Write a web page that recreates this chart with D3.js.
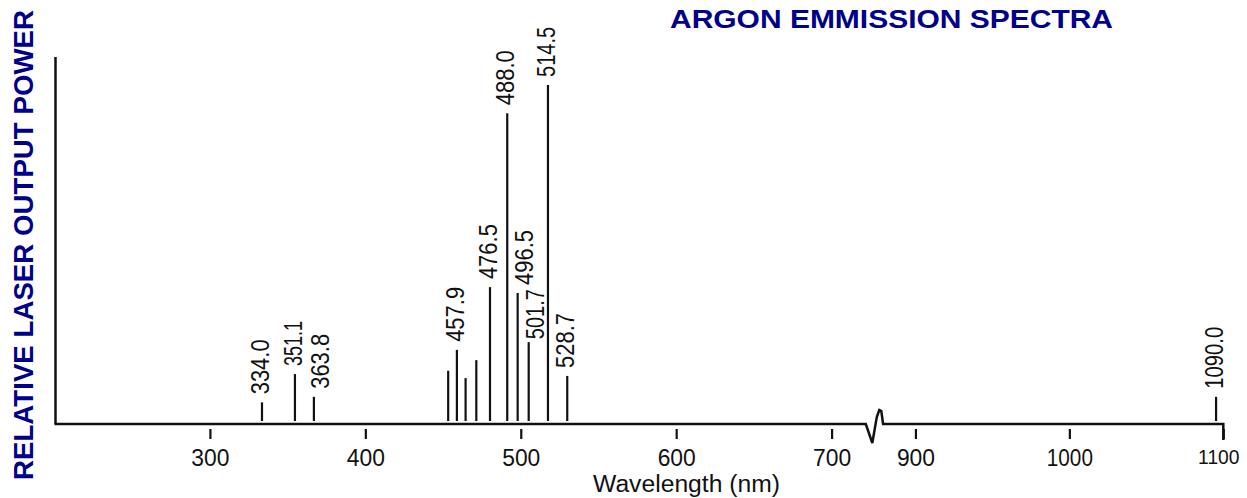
<!DOCTYPE html>
<html>
<head>
<meta charset="utf-8">
<script src="https://cdn.jsdelivr.net/npm/d3@7"></script>
<style>
  html, body { margin: 0; padding: 0; background: #ffffff; }
  svg { display: block; }
  text { font-family: Arial, "Liberation Sans", sans-serif; }
</style>
</head>
<body>
<svg id="chart" width="1247" height="498"></svg>
<script>
// ---- data ----
const titleText = "ARGON EMMISSION SPECTRA";
const yLabelText = "RELATIVE LASER OUTPUT POWER";
const xLabelText = "Wavelength (nm)";
const tickValues = [300, 400, 500, 600, 700, 900, 1000, 1100];
const lineLabels = ["334.0", "351.1", "363.8", "", "457.9", "", "", "476.5", "488.0", "496.5", "501.7", "514.5", "528.7", "1090.0"];
// positions of the emission lines as drawn on the (schematic) wavelength axis
const linePositions = [333.5, 354.7, 366.9, 453.3, 458.9, 464.5, 471.4, 480.2, 491.3, 498.0, 505.1, 517.5, 529.9, 1095.3];
const relativePower = [5.9, 13.6, 7.4, 14.5, 20.2, 12.5, 17.4, 37.3, 84.7, 35.7, 22.3, 92.4, 13.1, 7.4];
const axisDomain = [200, 722, 879, 1100];   // broken axis: 722..879 collapsed
const powerDomain = [0, 100];

// ---- layout / style ----
const svg = d3.select("#chart");
const navy = "#00008B";
const ink = "#111";
const baseY = 424;
const nudgedLabels = new Set(["363.8", "496.5", "501.7"]); // labels set to the right of their line in the original

const x = d3.scaleLinear().domain(axisDomain).range([54.5, 865.8, 883.1, 1223.3]);
const y = d3.scaleLinear().domain(powerDomain).range([baseY, 57]);

// narrow "1" like the original bitmap font
const tickWidth = s => [...s].reduce((a, c) => a + (c === "1" ? 8 : 12.7), 0);
const peakWidth = s => [...s].reduce((a, c) => a + (c === "1" || c === "." ? 7 : 12), 0);

// title
svg.append("text")
  .attr("x", 670).attr("y", 28)
  .attr("font-size", 25).attr("font-weight", "bold")
  .attr("fill", navy)
  .attr("textLength", 443).attr("lengthAdjust", "spacingAndGlyphs")
  .text(titleText);

// y label
svg.append("text")
  .attr("transform", "translate(33,245) rotate(-90)")
  .attr("text-anchor", "middle")
  .attr("font-size", 28).attr("font-weight", "bold")
  .attr("fill", navy)
  .attr("textLength", 470).attr("lengthAdjust", "spacingAndGlyphs")
  .text(yLabelText);

// y axis line
svg.append("line")
  .attr("x1", x(axisDomain[0]) + 1).attr("x2", x(axisDomain[0]) + 1)
  .attr("y1", y(powerDomain[1])).attr("y2", baseY)
  .attr("stroke", ink).attr("stroke-width", 2.5);

// x axis baseline with break symbol
const bx0 = x(axisDomain[1]), bx1 = x(axisDomain[2]);
const axisPts = [
  [x(axisDomain[0]), baseY],
  [bx0, baseY],
  [bx0 + 6.5, baseY + 19],
  [bx0 + 11, baseY - 7],
  [bx0 + 13.5, baseY - 14],
  [bx0 + 15.5, baseY - 13],
  [bx1, baseY],
  [x(axisDomain[3]), baseY],
  [x(axisDomain[3]), baseY + 16]
];
svg.append("path")
  .attr("d", d3.line()(axisPts))
  .attr("fill", "none").attr("stroke", ink).attr("stroke-width", 2.5)
  .attr("stroke-linejoin", "miter");

// ticks (separated from the baseline)
const lastTick = tickValues[tickValues.length - 1];
const axisG = svg.append("g")
  .attr("transform", `translate(0,${baseY + 5})`)
  .call(d3.axisBottom(x).tickValues(tickValues).tickSize(10).tickPadding(10.5).tickFormat(d3.format("d")));
axisG.select(".domain").remove();
axisG.selectAll(".tick line").attr("stroke", ink).attr("stroke-width", 2.2);
axisG.selectAll(".tick text")
  .attr("fill", ink)
  .attr("font-size", d => d === lastTick ? 21 : 23)
  .attr("font-family", "Arial, 'Liberation Sans', sans-serif")
  .attr("textLength", function () { return tickWidth(this.textContent); })
  .attr("lengthAdjust", "spacingAndGlyphs")
  .attr("x", d => d === lastTick ? -5 : 0);

// x label
svg.append("text")
  .attr("x", 686.5).attr("y", 492)
  .attr("text-anchor", "middle")
  .attr("font-size", 23).attr("fill", ink)
  .attr("textLength", 187).attr("lengthAdjust", "spacingAndGlyphs")
  .text(xLabelText);

// emission lines
const data = linePositions.map((p, i) => ({ pos: p, power: relativePower[i], label: lineLabels[i] }));
svg.append("g").selectAll("line")
  .data(data).join("line")
  .attr("x1", d => x(d.pos)).attr("x2", d => x(d.pos))
  .attr("y1", baseY - 3).attr("y2", d => y(d.power))
  .attr("stroke", ink).attr("stroke-width", 2.2);

// labels (rotated, above each line)
svg.append("g").selectAll("text")
  .data(data.filter(d => d.label !== "")).join("text")
  .attr("transform", d => `translate(${x(d.pos) + 7 + (nudgedLabels.has(d.label) ? 8 : 0)},${y(d.power) - (d.label === "501.7" ? 3 : 8)}) rotate(-90)`)
  .attr("text-anchor", "start")
  .attr("font-size", 25).attr("fill", ink)
  .attr("textLength", d => peakWidth(d.label))
  .attr("lengthAdjust", "spacingAndGlyphs")
  .text(d => d.label);
</script>
</body>
</html>
